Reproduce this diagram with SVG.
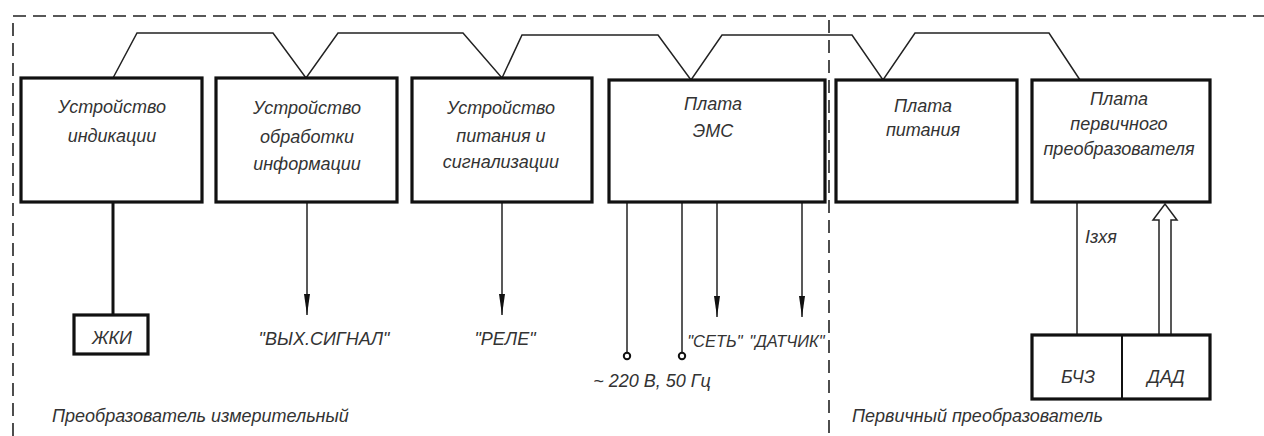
<svg xmlns="http://www.w3.org/2000/svg" width="1264" height="436" viewBox="0 0 1264 436">
<defs>
<marker id="arr" markerWidth="22" markerHeight="8" refX="21" refY="4" orient="auto" markerUnits="userSpaceOnUse" viewBox="0 0 22 8">
<path d="M0,1 L21,4 L0,7 Z" fill="#111"/>
</marker>
<style>
.bx{fill:#fff;stroke:#111;stroke-width:3.2}
.ln{fill:none;stroke:#222;stroke-width:1.5}
.thk{fill:none;stroke:#111;stroke-width:3}
.dash{fill:none;stroke:#222;stroke-width:1.6;stroke-dasharray:13,7}
.t{font-family:"Liberation Sans","DejaVu Sans",sans-serif;font-style:italic;font-size:18px;fill:#333;text-anchor:middle}
.tl{text-anchor:start}
.sm{font-size:16.5px}
</style>
</defs>
<rect width="1264" height="436" fill="#fff"/>
<g id="frame">
<path class="dash" d="M13,436 V16 H1264"/>
<path class="dash" d="M829,20 V436"/>
</g>
<g id="connectors">
<polyline class="ln" points="113,78 137,33 273,33 306,78 338,33 463,33 502,78 522,35 658,35 691,80 722,35 852,35 883,80 915,33 1049,33 1080,80"/>
<line class="thk" x1="113" y1="202" x2="113" y2="315"/>
<line class="ln" x1="307" y1="202" x2="307" y2="315" marker-end="url(#arr)"/>
<line class="ln" x1="502" y1="202" x2="502" y2="315" marker-end="url(#arr)"/>
<line class="ln" x1="627" y1="202" x2="627" y2="353"/>
<line class="ln" x1="682" y1="202" x2="682" y2="353"/>
<circle cx="627" cy="356" r="3.2" fill="#fff" stroke="#111" stroke-width="2"/>
<circle cx="682" cy="356" r="3.2" fill="#fff" stroke="#111" stroke-width="2"/>
<line class="ln" x1="717" y1="202" x2="717" y2="317" marker-end="url(#arr)"/>
<line class="ln" x1="802" y1="202" x2="802" y2="317" marker-end="url(#arr)"/>
<line class="ln" x1="1077" y1="202" x2="1077" y2="335"/>
<path class="ln" d="M1159,335 V220 H1153 L1165,204 L1177,220 H1171 V335" stroke-width="1.8"/>
</g>
<g id="n1"><rect class="bx" x="21" y="78" width="181" height="124"/>
<text class="t" x="112" y="113">Устройство</text><text class="t" x="112" y="142">индикации</text></g>
<g id="n2"><rect class="bx" x="216" y="78" width="181" height="124"/>
<text class="t" x="307" y="114">Устройство</text><text class="t" x="307" y="143">обработки</text><text class="t" x="307" y="170">информации</text></g>
<g id="n3"><rect class="bx" x="412" y="78" width="180" height="124"/>
<text class="t" x="501" y="114">Устройство</text><text class="t" x="501" y="142">питания и</text><text class="t" x="501" y="168">сигнализации</text></g>
<g id="n4"><rect class="bx" x="609" y="80" width="216" height="122"/>
<text class="t" x="713" y="110">Плата</text><text class="t" x="713" y="137">ЭМС</text></g>
<g id="n5"><rect class="bx" x="836" y="80" width="181" height="122"/>
<text class="t" x="923" y="112">Плата</text><text class="t" x="923" y="136">питания</text></g>
<g id="n6"><rect class="bx" x="1032" y="80" width="178" height="122"/>
<text class="t" x="1119" y="105">Плата</text><text class="t" x="1119" y="130">первичного</text><text class="t" x="1119" y="155">преобразователя</text></g>
<g id="zki"><rect class="bx" x="74" y="315" width="74" height="39"/>
<text class="t" x="112" y="344">ЖКИ</text></g>
<g id="sens"><rect class="bx" x="1032" y="335" width="178" height="64"/>
<line x1="1122" y1="335" x2="1122" y2="399" stroke="#111" stroke-width="2"/>
<text class="t" x="1078" y="383">БЧЗ</text><text class="t" x="1166" y="383">ДАД</text></g>
<g id="labels">
<text class="t" x="324" y="345">"ВЫХ.СИГНАЛ"</text>
<text class="t" x="505" y="345">"РЕЛЕ"</text>
<text class="t sm" x="715" y="347">"СЕТЬ"</text>
<text class="t sm" x="787" y="347">"ДАТЧИК"</text>
<text class="t" x="652" y="387">~ 220 В, 50 Гц</text>
<text class="t" x="1101" y="243">Iзхя</text>
<text class="t tl" x="52" y="422">Преобразователь измерительный</text>
<text class="t tl" x="852" y="422">Первичный преобразователь</text>
</g>
</svg>
